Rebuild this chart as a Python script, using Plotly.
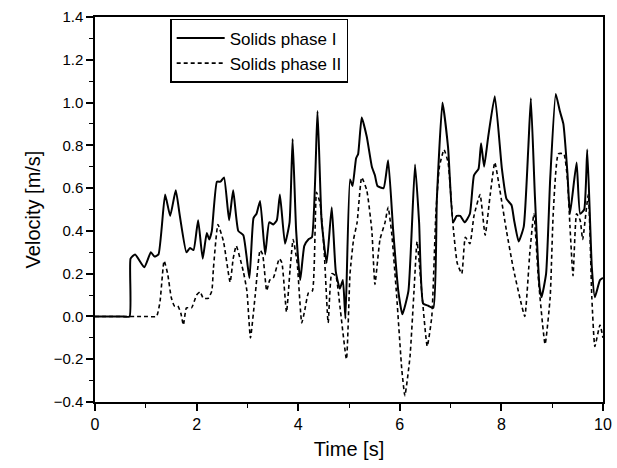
import plotly.graph_objects as go

# Solids phase I (solid line)
t1 = [0.0, 0.50, 0.68, 0.70, 0.79, 0.97, 1.10, 1.17, 1.25, 1.38, 1.48, 1.59, 1.67, 1.80, 1.87, 1.94,
      2.03, 2.12, 2.20, 2.25, 2.30, 2.40, 2.47, 2.54, 2.64, 2.72, 2.82, 2.92, 3.04, 3.12, 3.18,
      3.25, 3.35, 3.43, 3.51, 3.58, 3.64, 3.74, 3.83, 3.89, 3.96, 4.04, 4.12, 4.20, 4.27, 4.38,
      4.46, 4.56, 4.66, 4.74, 4.82, 4.88, 4.93, 5.02, 5.07, 5.14, 5.18, 5.25, 5.35, 5.45, 5.51,
      5.56, 5.68, 5.77, 5.87, 5.97, 6.05, 6.17, 6.30, 6.38, 6.46, 6.56, 6.66, 6.73, 6.84, 6.95,
      7.05, 7.12, 7.19, 7.28, 7.38, 7.46, 7.55, 7.60, 7.66, 7.74, 7.87, 8.01, 8.10, 8.20, 8.25,
      8.34, 8.44, 8.53, 8.58, 8.66, 8.75, 8.79, 8.88, 8.96, 9.07, 9.15, 9.22, 9.30, 9.35, 9.48,
      9.55, 9.63, 9.69, 9.78, 9.84, 9.94, 10.0]
v1 = [0.0, 0.0, 0.0, 0.27, 0.29, 0.23, 0.30, 0.28, 0.29, 0.57, 0.47, 0.59, 0.47, 0.30, 0.32, 0.31,
      0.45, 0.27, 0.39, 0.36, 0.40, 0.63, 0.63, 0.65, 0.45, 0.59, 0.40, 0.38, 0.18, 0.46, 0.48,
      0.54, 0.29, 0.44, 0.43, 0.45, 0.57, 0.34, 0.44, 0.83, 0.40, 0.17, 0.33, 0.36, 0.37, 0.96,
      0.45, 0.25, 0.51, 0.21, 0.13, 0.17, -0.01, 0.64, 0.61, 0.74, 0.76, 0.93, 0.84, 0.70, 0.66,
      0.61, 0.60, 0.73, 0.40, 0.12, 0.01, 0.12, 0.71, 0.44, 0.06, 0.05, 0.04, 0.55, 1.00, 0.79,
      0.44, 0.47, 0.47, 0.44, 0.48, 0.66, 0.69, 0.81, 0.70, 0.84, 1.03, 0.69, 0.55, 0.52, 0.45,
      0.35, 0.42, 0.79, 1.02, 0.56, 0.14, 0.09, 0.20, 0.64, 1.04, 0.96, 0.90, 0.67, 0.48, 0.72,
      0.48, 0.50, 0.78, 0.23, 0.09, 0.17, 0.18]

# Solids phase II (dashed line)
t2 = [0.0, 1.00, 1.21, 1.28, 1.36, 1.43, 1.50, 1.56, 1.63, 1.69, 1.74, 1.80, 1.90, 2.00, 2.07, 2.13,
      2.23, 2.30, 2.33, 2.42, 2.53, 2.66, 2.72, 2.78, 2.92, 2.99, 3.06, 3.15, 3.25, 3.30, 3.38,
      3.44, 3.51, 3.63, 3.68, 3.77, 3.84, 3.90, 3.98, 4.07, 4.13, 4.20, 4.28, 4.36, 4.43, 4.51,
      4.59, 4.66, 4.74, 4.82, 4.95, 5.02, 5.09, 5.16, 5.25, 5.35, 5.45, 5.51, 5.61, 5.71, 5.77,
      5.84, 5.94, 6.04, 6.10, 6.20, 6.28, 6.34, 6.43, 6.54, 6.63, 6.71, 6.78, 6.87, 6.95, 7.05,
      7.13, 7.22, 7.29, 7.38, 7.46, 7.58, 7.68, 7.78, 7.87, 7.97, 8.10, 8.23, 8.37, 8.46, 8.56,
      8.64, 8.73, 8.86, 8.96, 9.02, 9.12, 9.23, 9.30, 9.35, 9.41, 9.48, 9.55, 9.60, 9.71, 9.78,
      9.84, 9.94, 10.0]
v2 = [0.0, 0.0, 0.0, 0.07, 0.26, 0.20, 0.09, 0.05, 0.05, 0.015, -0.04, 0.04, 0.04, 0.10, 0.115, 0.085,
      0.085, 0.12, 0.22, 0.43, 0.35, 0.16, 0.27, 0.33, 0.21, 0.12, -0.10, 0.09, 0.31, 0.29, 0.12,
      0.17, 0.18, 0.27, 0.25, 0.02, 0.22, 0.36, 0.25, -0.03, 0.03, 0.11, 0.12, 0.58, 0.53, 0.31,
      -0.03, 0.20, 0.19, 0.05, -0.20, 0.20, 0.36, 0.44, 0.65, 0.59, 0.40, 0.15, 0.36, 0.44, 0.51,
      0.39, 0.09, -0.25, -0.37, -0.19, 0.12, 0.35, 0.12, -0.14, 0.00, 0.48, 0.70, 0.78, 0.72, 0.42,
      0.25, 0.20, 0.37, 0.34, 0.47, 0.57, 0.38, 0.57, 0.72, 0.59, 0.40, 0.23, 0.08, 0.00, 0.30,
      0.48, 0.17, -0.13, 0.09, 0.48, 0.76, 0.76, 0.64, 0.42, 0.19, 0.48, 0.45, 0.36, 0.57, 0.09,
      -0.14, -0.04, -0.10]

x_ticks = [0, 2, 4, 6, 8, 10]
y_ticks = [-0.4, -0.2, 0.0, 0.2, 0.4, 0.6, 0.8, 1.0, 1.2, 1.4]
y_tick_text = ["\u22120.4", "\u22120.2", "0.0", "0.2", "0.4", "0.6", "0.8", "1.0", "1.2", "1.4"]

FONT = "Liberation Sans, Arial, sans-serif"

fig = go.Figure()
fig.add_trace(go.Scatter(x=t1, y=v1, mode="lines", name="Solids phase I",
                         line=dict(color="black", width=2, shape="spline", smoothing=0.45)))
fig.add_trace(go.Scatter(x=t2, y=v2, mode="lines", name="Solids phase II",
                         line=dict(color="black", width=1.6, dash="4px,3px", shape="spline", smoothing=0.45)))

fig.update_layout(
    width=617, height=468,
    margin=dict(l=95, r=14, t=17, b=66, autoexpand=False),
    paper_bgcolor="white", plot_bgcolor="white",
    font=dict(family=FONT, color="black"),
    showlegend=True,
    legend=dict(x=0.148, y=0.995, xanchor="left", yanchor="top",
                bgcolor="white", bordercolor="black", borderwidth=1.5,
                itemwidth=48,
                font=dict(size=17, family=FONT), tracegroupgap=0),
    xaxis=dict(range=[0, 10], tickvals=x_ticks, ticktext=[str(v) for v in x_ticks],
               automargin=False,
               showgrid=False, zeroline=False, showline=True, linecolor="black", linewidth=1.5,
               mirror=True, ticks="outside", ticklen=7, tickwidth=1.5, tickcolor="black",
               minor=dict(dtick=1, ticks="outside", ticklen=4, tickwidth=1, tickcolor="black"),
               tickfont=dict(size=16),
               title=dict(text="Time [s]", font=dict(size=20), standoff=10)),
    yaxis=dict(range=[-0.4, 1.4], tickvals=y_ticks, ticktext=y_tick_text,
               automargin=False,
               showgrid=False, zeroline=False, showline=True, linecolor="black", linewidth=1.5,
               mirror=True, ticks="outside", ticklen=7, tickwidth=1.5, tickcolor="black",
               minor=dict(dtick=0.1, ticks="outside", ticklen=4, tickwidth=1, tickcolor="black"),
               tickfont=dict(size=15),
               title=dict(text="Velocity [m/s]", font=dict(size=20), standoff=8)),
)

fig.write_html("out.html", config={"displayModeBar": False},
               post_script="document.body.style.margin='0';document.body.style.overflow='hidden';")
